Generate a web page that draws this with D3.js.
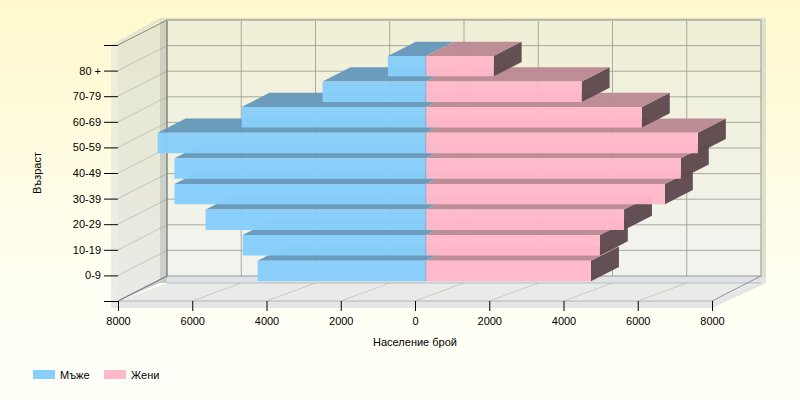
<!DOCTYPE html>
<html><head><meta charset="utf-8">
<script src="https://cdnjs.cloudflare.com/ajax/libs/d3/7.8.5/d3.min.js"></script>
<style>html,body{margin:0;padding:0;background:#fff}svg{display:block}text{font-family:"Liberation Sans",Arial,sans-serif;font-size:11px;fill:#000}</style>
</head><body><div id="c"></div>
<script>
const categories = ["0-9","10-19","20-29","30-39","40-49","50-59","60-69","70-79","80 +"];
const male   = [4530,4930,5930,6770,6770,7220,4960,2780,1020];
const female = [4450,4690,5340,6440,6870,7330,5820,4200,1830];
const xTicks = [-8000,-6000,-4000,-2000,0,2000,4000,6000,8000];
const seriesNames = ["Мъже","Жени"];
const W=800,H=400;
const svg=d3.select("#c").append("svg").attr("width",W).attr("height",H);
const defs=svg.append("defs");
function grad(id,x2,y2,stops){const g=defs.append("linearGradient").attr("id",id).attr("x1",0).attr("y1",0).attr("x2",x2).attr("y2",y2);
 stops.forEach(s=>g.append("stop").attr("offset",s[0]).attr("stop-color",s[1]));}
grad("bg",0,1,[[0,"#fff8cc"],[.72,"#fffff3"],[1,"#fffff8"]]);
grad("back",0,1,[[0,"#f0f0d6"],[1,"#f2f3ef"]]);
grad("left",0,1,[[0,"#e6e6cd"],[.5,"#e8e9d9"],[1,"#e9eae6"]]);
grad("strip",0,1,[[0,"#efeedb"],[1,"#ebecea"]]);
grad("post",0,1,[[0,"#bfc1ac"],[1,"#b7bdbf"]]);
svg.append("rect").attr("width",W).attr("height",H).attr("fill","url(#bg)");

const x=d3.scaleLinear().domain([-8000,8000]).range([118,712]);
const y=d3.scaleLinear().domain([0,10]).range([301,45]);
const depthX=d3.scaleLinear().domain([0,1]).range([0,49]);
const depthY=d3.scaleLinear().domain([0,1]).range([0,-25]);
const P=(v,i,z)=>[x(v)+depthX(z),y(i)+depthY(z)];
const poly=(pts,attrs,g=svg)=>{const p=g.append("polygon").attr("points",pts.map(q=>q.join(",")).join(" "));
 Object.entries(attrs).forEach(([k,v])=>p.attr(k,v));return p;};
const seg=(a,b,c,w=1,o=1)=>svg.append("line").attr("x1",a[0]).attr("y1",a[1]).attr("x2",b[0]).attr("y2",b[1]).attr("stroke",c).attr("stroke-width",w).attr("stroke-opacity",o);
const xMin=-8000,xMax=8000,yTop=10,t=7;

// outer wall thickness
poly([[x(xMin)-t,y(yTop)],P(xMin,yTop,1).map((v,i)=>v-(i?2:t)),[P(xMin,yTop,1)[0],P(xMin,yTop,1)[1]-2],[x(xMin),y(yTop)]],{fill:"#e6e6cf"});
poly([[x(xMin)-t,y(yTop)],[x(xMin),y(yTop)],[x(xMin),y(0)+t],[x(xMin)-t,y(0)+t]],{fill:"url(#strip)"});
poly([P(xMin,yTop,1).map((v,i)=>v-(i?2:7)),[P(xMax,yTop,1)[0]+5,P(xMax,yTop,1)[1]-2],[P(xMax,0,1)[0]+5,P(xMax,0,1)[1]+7],[P(xMin,0,1)[0]-7,P(xMin,0,1)[1]+7]],{fill:"#dfe0cc"});
// floor thickness
poly([[x(xMin)-t,y(0)],[x(xMax),y(0)],[P(xMax,0,1)[0]+5,P(xMax,0,1)[1]+1],[P(xMax,0,1)[0]+5,P(xMax,0,1)[1]+7],[x(xMax),y(0)+7],[x(xMin)-t,y(0)+7]],{fill:"#e4e6e6"});
// back wall
poly([P(xMin,0,1),P(xMax,0,1),P(xMax,yTop,1),P(xMin,yTop,1)],{fill:"url(#back)"});
poly([P(xMin,0,1),P(xMax,0,1),[P(xMax,0,1)[0],P(xMax,0,1)[1]+7],[P(xMin,0,1)[0],P(xMin,0,1)[1]+7]],{fill:"#dfe3e5"});
// left wall
poly([P(xMin,0,0),P(xMin,0,1),P(xMin,yTop,1),P(xMin,yTop,0)],{fill:"url(#left)"});
// post between left wall and back wall
poly([[P(xMin,0,1)[0]-7,P(xMin,yTop,1)[1]+3],P(xMin,yTop,1),[P(xMin,0,1)[0],P(xMin,0,1)[1]+7],[P(xMin,0,1)[0]-7,P(xMin,0,1)[1]+7]],{fill:"url(#post)","fill-opacity":.6});
// floor
poly([P(xMin,0,0),P(xMax,0,0),[P(xMax,0,1)[0],P(xMax,0,1)[1]+7],[P(xMin,0,1)[0],P(xMin,0,1)[1]+7]],{fill:"#e9ebe8"});
poly([P(xMin,0,0),[P(xMin,0,1)[0]-7,P(xMin,0,1)[1]+7],P(xMin,0,1)],{fill:"#c9ced6"});

// grid
d3.range(0,11).forEach(i=>{
  if(i>0) seg(P(xMin,i,1),P(xMax,i,1),"#8f9184",1,.75);
  if(i>0) seg(P(xMin,i,0),P(xMin,i,1),"#9a9c90",1,.45);
});
xTicks.forEach(v=>{
  seg(P(v,yTop,1),[P(v,0,1)[0],P(v,0,1)[1]],"#8f9184",1,.75);
  seg(P(v,0,0),[P(v,0,1)[0],P(v,0,1)[1]+(v===xTicks[0]||v===8000?0:7)],"#9a9c90",1,.4);
});
// frame edges
seg(P(xMin,0,1),P(xMin,yTop,1),"#70736c",1.2,.8);
seg(P(xMin,0,1),P(xMax,0,1),"#7d8388",1,.8);
seg([P(xMin,0,1)[0],P(xMin,0,1)[1]+7],[P(xMax,0,1)[0],P(xMax,0,1)[1]+7],"#9aa0a6",1,.6);
seg(P(xMin,yTop,1),P(xMax,yTop,1),"#b8baa5",2,.9);
seg(P(xMax,0,1),P(xMax,yTop,1),"#b8baa5",1,.8);
seg(P(xMin,yTop,0),P(xMin,yTop,1),"#85877c",1,.9);
seg(P(xMin,0,0),P(xMin,0,1),"#70747c",1.2,.9);
seg(P(xMin,0,0),P(xMax,0,0),"#a4a7a6",1,.8);
seg(P(xMax,0,0),P(xMax,0,1),"#8b9096",1,.8);

// bars
const zF=0.22,zB=0.79,barH=0.80,lift=-0.04;
const colM={front:"#87cefa",top:"#6699bb"},colF={front:"#ffb9c9",top:"#bb8a94",side:"#5f4a4e"};
const o={"fill-opacity":.97};
categories.forEach((c,i)=>{
  const b=i+1+lift-barH/2, a=i+1+lift+barH/2;
  const pf=P;
  const m=-male[i], f=female[i];
  poly([pf(m,a,zF),pf(0,a,zF),pf(0,a,zB),pf(m,a,zB)],{fill:colM.top,...o});
  poly([pf(m,b,zF),pf(0,b,zF),pf(0,a,zF),pf(m,a,zF)],{fill:colM.front,...o});
  poly([pf(f,b,zF),pf(f,a,zF),pf(f,a,zB),pf(f,b,zB)],{fill:colF.side,...o});
  poly([pf(0,a,zF),pf(f,a,zF),pf(f,a,zB),pf(0,a,zB)],{fill:colF.top,...o});
  poly([pf(0,b,zF),pf(f,b,zF),pf(f,a,zF),pf(0,a,zF)],{fill:colF.front,...o});
  seg(pf(0,b,zF),pf(0,a,zF),"#7fa9c9",1,.9);
});

// axes ticks
const ax=svg.append("g").attr("transform",`translate(0,${y(0)})`).call(d3.axisBottom(x).tickValues(xTicks).tickSize(10).tickPadding(4).tickFormat(d=>Math.abs(d)));
ax.select(".domain").remove();ax.selectAll("text").attr("dy","0.9em").style("font-size","11px");
const ay=svg.append("g").attr("transform",`translate(${x(xMin)},0)`).call(d3.axisLeft(y).tickValues(d3.range(0,11)).tickSize(14).tickPadding(3).tickFormat(d=>categories[d-1]||""));
ay.select(".domain").remove();ay.selectAll("text").style("font-size","11px");
svg.selectAll(".tick line").attr("stroke","#000");

svg.append("text").attr("x",415).attr("y",346).attr("text-anchor","middle").text("Население брой");
svg.append("text").attr("transform","translate(41,173) rotate(-90)").attr("text-anchor","middle").text("Възраст");

// legend
svg.append("rect").attr("x",24).attr("y",364).attr("width",150).attr("height",22).attr("fill","#fff").attr("fill-opacity",.35);
seriesNames.forEach((n,i)=>{
  const lx=d3.scaleOrdinal().domain(seriesNames).range([33,104])(n);
  svg.append("rect").attr("x",lx).attr("y",370).attr("width",22).attr("height",9).attr("fill",i?colF.front:colM.front);
  svg.append("text").attr("x",lx+27).attr("y",379).text(n);
});
</script></body></html>
